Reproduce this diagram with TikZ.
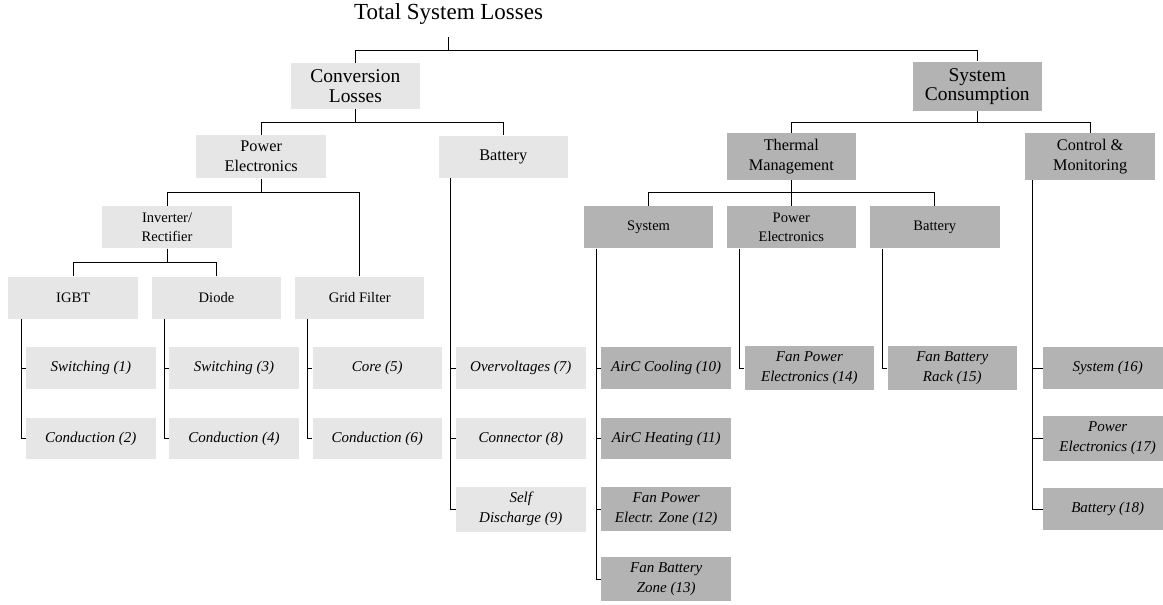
\documentclass[tikz,border=0pt]{standalone}
\usepackage{fontspec}
\setmainfont{Liberation Serif}
\usetikzlibrary{calc}
\definecolor{lightbox}{HTML}{E6E6E6}
\definecolor{darkbox}{HTML}{B3B3B3}
\begin{document}
\begin{tikzpicture}[x=0.75pt,y=-0.75pt,
  box/.style={rectangle, inner sep=0pt, minimum width=97.1pt, align=center},
  light/.style={box, fill=lightbox},
  dark/.style={box, fill=darkbox},
  lvltitle/.style={inner sep=0pt, font=\fontsize{17.25}{20}\selectfont},
  lvlone/.style={font=\fontsize{14.6}{14.5}\selectfont},
  lvltwo/.style={font=\fontsize{12.2}{15}\selectfont},
  lvlthree/.style={font=\fontsize{10.9}{14.7}\selectfont},
  leaf/.style={font=\fontsize{11.25}{15}\selectfont\itshape},
  wire/.style={draw=black, line width=0.7pt}]

\useasboundingbox (0,0) rectangle (1163,604);
\clip (0,0) rectangle (1163,604);

% root
\node[lvltitle, anchor=base] (title) at (448.6,19) {Total System Losses};
\coordinate (titlefoot) at (448.9,37);

% first level
\node[light, lvlone, minimum height=34.3pt] (conv) at (355.35,86.15) {Conversion\\Losses};
\node[dark,  lvlone, minimum height=37pt]   (sys)  at (977.25,86.35) {System\\Consumption};

% second level
\node[light, lvltwo, minimum height=32.5pt] (pe)    at (261.2,156.7) {Power\\Electronics};
\node[light, lvltwo, minimum height=31.5pt] (bat)   at (503.3,156.6) {Battery};
\node[dark,  lvltwo, minimum height=35pt]   (therm) at (791.3,156.7) {Thermal\\Management};
\node[dark,  lvltwo, minimum height=35pt]   (ctrl)  at (1090.1,156.7) {Control \&\\Monitoring};

% third level
\node[light, lvlthree, minimum height=31.7pt] (inv)  at (167.1,227.2) {Inverter/\\Rectifier};
\node[dark,  lvlthree, minimum height=31.7pt] (tsys) at (648.6,227.2) {System};
\node[dark,  lvlthree, minimum height=31.7pt] (tpe)  at (791.3,227.2) {Power\\Electronics};
\node[dark,  lvlthree, minimum height=31.7pt] (tbat) at (934.8,227.2) {Battery};

% semiconductors and filter
\node[light, lvlthree, minimum height=31.5pt] (igbt)  at (73.2,297.7)  {IGBT};
\node[light, lvlthree, minimum height=31.5pt] (diode) at (216.5,297.7) {Diode};
\node[light, lvlthree, minimum height=31.5pt] (grid)  at (359.7,297.7) {Grid Filter};

% conversion loss items
\node[light, leaf, minimum height=31.3pt] (l1) at (90.8,368.2)  {Switching (1)};
\node[light, leaf, minimum height=31.3pt] (l2) at (90.8,438.5)  {Conduction (2)};
\node[light, leaf, minimum height=31.3pt] (l3) at (234,368.2)   {Switching (3)};
\node[light, leaf, minimum height=31.3pt] (l4) at (234,438.5)   {Conduction (4)};
\node[light, leaf, minimum height=31.3pt] (l5) at (377.3,368.2) {Core (5)};
\node[light, leaf, minimum height=31.3pt] (l6) at (377.3,438.5) {Conduction (6)};
\node[light, leaf, minimum height=31.3pt] (l7) at (520.8,368.2) {Overvoltages (7)};
\node[light, leaf, minimum height=31.3pt] (l8) at (520.8,438.5) {Connector (8)};
\node[light, leaf, minimum height=33.75pt] (l9) at (520.8,509.2) {Self\\Discharge (9)};

% consumption items
\node[dark, leaf, minimum height=31.3pt] (l10) at (666.2,368.2) {AirC Cooling (10)};
\node[dark, leaf, minimum height=31.3pt] (l11) at (666.2,438.5) {AirC Heating (11)};
\node[dark, leaf, minimum height=33pt]   (l12) at (666.2,509)   {Fan Power\\Electr. Zone (12)};
\node[dark, leaf, minimum height=32.8pt] (l13) at (666.2,579.2) {Fan Battery\\Zone (13)};
\node[dark, leaf, minimum height=33pt]   (l14) at (809.4,368)   {Fan Power\\Electronics (14)};
\node[dark, leaf, minimum height=33pt]   (l15) at (952.3,368)   {Fan Battery\\Rack (15)};
\node[dark, leaf, minimum height=31.3pt] (l16) at (1107.7,368.2) {System (16)};
\node[dark, leaf, minimum height=33.3pt] (l17) at (1107.7,438.5) {Power\\Electronics (17)};
\node[dark, leaf, minimum height=32pt]   (l18) at (1107.7,509)   {Battery (18)};

% tree connectors
\draw[wire] (titlefoot) -- ++(0,13.7) coordinate (b0);
\draw[wire] (conv.north) |- (b0) -| (sys.north);
\draw[wire] (conv.south) -- ++(0,12.7) coordinate (b1);
\draw[wire] (pe.north) |- (b1) -| (bat.north);
\draw[wire] (sys.south) -- ++(0,10.7) coordinate (b2);
\draw[wire] (therm.north) |- (b2) -| (ctrl.north);
\draw[wire] (pe.south) -- ++(0,13.4) coordinate (b3);
\draw[wire] (inv.north) |- (b3) -| (grid.north);
\draw[wire] (inv.south) -- ++(0,14.2) coordinate (b4);
\draw[wire] (igbt.north) |- (b4) -| (diode.north);
\draw[wire] (therm.south) -- (tpe.north);
\draw[wire] (therm.south) -- ++(0,12.2) coordinate (b5);
\draw[wire] (tsys.north) |- (b5) -| (tbat.north);

% side brackets to the listed items
\coordinate (kigbt)  at ($(igbt.south west)+(13.2,0)$);
\coordinate (kdiode) at ($(diode.south west)+(12.6,0)$);
\coordinate (kgrid)  at ($(grid.south west)+(12.7,0)$);
\coordinate (kbat)   at ($(bat.south west)+(12.4,0)$);
\coordinate (ktsys)  at ($(tsys.south west)+(12.8,0)$);
\coordinate (ktpe)   at ($(tpe.south west)+(13.1,0)$);
\coordinate (ktbat)  at ($(tbat.south west)+(13.1,0)$);
\coordinate (kctrl)  at ($(ctrl.south west)+(7.2,0)$);

\draw[wire] (kigbt) |- (l2.west);
\draw[wire] (kigbt |- l1.west) -- (l1.west);
\draw[wire] (kdiode) |- (l4.west);
\draw[wire] (kdiode |- l3.west) -- (l3.west);
\draw[wire] (kgrid) |- (l6.west);
\draw[wire] (kgrid |- l5.west) -- (l5.west);
\draw[wire] (kbat) |- (l9.west);
\draw[wire] (kbat |- l7.west) -- (l7.west);
\draw[wire] (kbat |- l8.west) -- (l8.west);
\draw[wire] (ktsys) |- (l13.west);
\draw[wire] (ktsys |- l10.west) -- (l10.west);
\draw[wire] (ktsys |- l11.west) -- (l11.west);
\draw[wire] (ktsys |- l12.west) -- (l12.west);
\draw[wire] (ktpe) |- (l14.west);
\draw[wire] (ktbat) |- (l15.west);
\draw[wire] (kctrl) |- (l18.west);
\draw[wire] (kctrl |- l16.west) -- (l16.west);
\draw[wire] (kctrl |- l17.west) -- (l17.west);
\end{tikzpicture}
\end{document}
